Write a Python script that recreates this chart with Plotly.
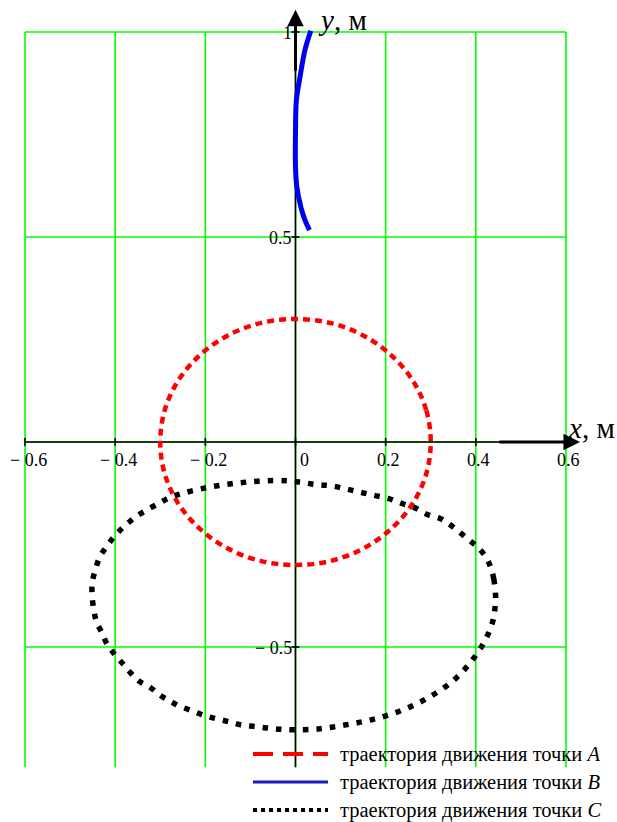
import plotly.graph_objects as go

# ---- axis ticks and grid -------------------------------------------------
x_ticks = [-0.6, -0.4, -0.2, 0.0, 0.2, 0.4, 0.6]
x_tick_labels = ["− 0.6", "− 0.4", "− 0.2", "0", "0.2", "0.4", "0.6"]
y_ticks = [-0.5, 0.5, 1.0]
y_tick_labels = ["− 0.5", "0.5", "1"]
y_grid = [-0.5, 0.0, 0.5, 1.0]
y_bottom = -0.793

# ---- trajectory of point A (m) -------------------------------------------
a_x = [0.300, 0.290, 0.260, 0.212, 0.150, 0.078, 0.000, -0.078, -0.150, -0.212,
       -0.260, -0.290, -0.300, -0.290, -0.260, -0.212, -0.150, -0.078, 0.000,
       0.078, 0.150, 0.212, 0.260, 0.290, 0.300]
a_y = [0.000, 0.078, 0.150, 0.212, 0.260, 0.290, 0.300, 0.290, 0.260, 0.212,
       0.150, 0.078, 0.000, -0.078, -0.150, -0.212, -0.260, -0.290, -0.300,
       -0.290, -0.260, -0.212, -0.150, -0.078, 0.000]

# ---- trajectory of point B (m) -------------------------------------------
b_x = [0.031, 0.021, 0.012, 0.003, 0.000, 0.000, 0.002, 0.010, 0.021, 0.034]
b_y = [0.517, 0.541, 0.573, 0.622, 0.671, 0.753, 0.834, 0.890, 0.956, 1.003]

# ---- trajectory of point C (m) -------------------------------------------
c_x = [0.444, 0.440, 0.433, 0.423, 0.404, 0.387, 0.365, 0.343, 0.322, 0.291,
       0.264, 0.236, 0.207, 0.174, 0.145, 0.114, 0.080, 0.048, 0.016, -0.012,
       -0.050, -0.100, -0.150, -0.200, -0.250, -0.282, -0.303, -0.329, -0.351,
       -0.372, -0.389, -0.404, -0.419, -0.434, -0.444, -0.451, -0.451, -0.447,
       -0.441, -0.429, -0.419, -0.401, -0.383, -0.365, -0.346, -0.323, -0.300,
       -0.278, -0.258, -0.228, -0.201, -0.175, -0.145, -0.121, -0.088, -0.059,
       -0.028, 0.004, 0.050, 0.100, 0.150, 0.200, 0.250, 0.300, 0.350, 0.390,
       0.420, 0.437, 0.442, 0.444]
c_y = [-0.380, -0.335, -0.306, -0.282, -0.256, -0.241, -0.221, -0.202, -0.187,
       -0.176, -0.160, -0.150, -0.138, -0.130, -0.123, -0.115, -0.107, -0.104,
       -0.099, -0.095, -0.094, -0.097, -0.103, -0.112, -0.125, -0.137, -0.150,
       -0.165, -0.180, -0.198, -0.215, -0.233, -0.255, -0.280, -0.312, -0.343,
       -0.377, -0.412, -0.440, -0.466, -0.491, -0.518, -0.541, -0.564, -0.584,
       -0.598, -0.618, -0.632, -0.644, -0.656, -0.668, -0.675, -0.683, -0.690,
       -0.694, -0.698, -0.701, -0.702, -0.700, -0.692, -0.682, -0.668, -0.648,
       -0.620, -0.582, -0.535, -0.485, -0.440, -0.410, -0.380]

legend_names = ["траектория движения точки <i>A</i>",
                "траектория движения точки <i>B</i>",
                "траектория движения точки <i>C</i>"]

SERIF = "'Liberation Serif', 'Times New Roman', 'DejaVu Serif', serif"
GRID = "#00FF00"

fig = go.Figure()

fig.add_trace(go.Scatter(x=a_x, y=a_y, mode="lines", showlegend=False,
                         line=dict(color="#FF0000", width=4.5, dash="7px,5px",
                                   shape="spline")))
fig.add_trace(go.Scatter(x=b_x, y=b_y, mode="lines", showlegend=False,
                         line=dict(color="#0000F0", width=5, shape="spline")))
fig.add_trace(go.Scatter(x=c_x, y=c_y, mode="lines", showlegend=False,
                         line=dict(color="#000000", width=5.5, dash="5.5px,8px",
                                   shape="spline")))

shapes = []
# grid
for xv in x_ticks:
    shapes.append(dict(type="line", xref="x", yref="y", x0=xv, x1=xv,
                       y0=y_bottom, y1=max(y_grid), layer="below",
                       line=dict(color=GRID, width=1.6)))
for yv in y_grid:
    shapes.append(dict(type="line", xref="x", yref="y", x0=min(x_ticks),
                       x1=max(x_ticks), y0=yv, y1=yv, layer="below",
                       line=dict(color=GRID, width=1.6)))
# axis lines
shapes.append(dict(type="line", xref="x", yref="y", x0=min(x_ticks), x1=max(x_ticks),
                   y0=0, y1=0, layer="below", line=dict(color="black", width=1.6)))
shapes.append(dict(type="line", xref="x", yref="y", x0=0, x1=0,
                   y0=y_bottom, y1=max(y_grid), layer="below",
                   line=dict(color="black", width=1.6)))
# tick marks
for xv in x_ticks:
    shapes.append(dict(type="line", xref="x", yref="y", x0=xv, x1=xv,
                       ysizemode="pixel", yanchor=0, y0=-4, y1=4, layer="below",
                       line=dict(color="black", width=1.6)))
for yv in y_ticks:
    shapes.append(dict(type="line", xref="x", yref="y", y0=yv, y1=yv,
                       xsizemode="pixel", xanchor=0, x0=-4, x1=4, layer="below",
                       line=dict(color="black", width=1.6)))

# legend samples
legend_rows = [754, 782, 810]
legend_styles = [dict(color="#FF0000", width=4, dash="20px,10px"),
                 dict(color="#1A1AC0", width=3),
                 dict(color="#000000", width=4, dash="4px,4px")]
W, H = 617, 822
for row, style in zip(legend_rows, legend_styles):
    shapes.append(dict(type="line", xref="paper", yref="paper",
                       x0=253 / W, x1=328 / W, y0=1 - row / H, y1=1 - row / H,
                       line=style))

annotations = []
for xv, txt in zip(x_ticks, x_tick_labels):
    annotations.append(dict(x=xv, y=0, xref="x", yref="y", text=txt,
                            showarrow=False, xanchor="center", yanchor="middle",
                            xshift=9 if xv == 0 else 3, yshift=-18,
                            font=dict(family=SERIF, size=18, color="black")))
for yv, txt in zip(y_ticks, y_tick_labels):
    annotations.append(dict(x=0, y=yv, xref="x", yref="y", text=txt,
                            showarrow=False, xanchor="right", yanchor="middle",
                            xshift=-1, yshift=-1,
                            font=dict(family=SERIF, size=18, color="black")))

# axis arrows
annotations.append(dict(x=0.631, y=0, ax=0.449, ay=0, xref="x", yref="y",
                        axref="x", ayref="y", text="", showarrow=True,
                        arrowhead=2, arrowsize=1.1, arrowwidth=3, arrowcolor="black"))
annotations.append(dict(x=0, y=1.054, ax=0, ay=0.902, xref="x", yref="y",
                        axref="x", ayref="y", text="", showarrow=True,
                        arrowhead=2, arrowsize=1.1, arrowwidth=3, arrowcolor="black"))
# axis titles
annotations.append(dict(x=0, y=1.029, xref="x", yref="y", text="<i>y</i>, м",
                        showarrow=False, xanchor="left", yanchor="middle",
                        xshift=21, yshift=0,
                        font=dict(family=SERIF, size=29, color="black")))
annotations.append(dict(x=0.6, y=0, xref="x", yref="y", text="<i>x</i>, м",
                        showarrow=False, xanchor="left", yanchor="middle",
                        xshift=0, yshift=14,
                        font=dict(family=SERIF, size=29, color="black")))
# legend labels
for row, name in zip(legend_rows, legend_names):
    annotations.append(dict(x=338 / W, y=1 - row / H, xref="paper", yref="paper",
                            text=name, showarrow=False, xanchor="left",
                            yanchor="middle",
                            font=dict(family=SERIF, size=20.5, color="black")))

fig.update_layout(
    width=W, height=H,
    margin=dict(l=0, r=0, t=0, b=0),
    paper_bgcolor="white", plot_bgcolor="white",
    xaxis=dict(range=[-0.6555, 0.7132], visible=False, fixedrange=True),
    yaxis=dict(range=[-0.9268, 1.0780], visible=False, fixedrange=True),
    shapes=shapes, annotations=annotations,
    showlegend=False,
)

fig.write_html("out.html")
